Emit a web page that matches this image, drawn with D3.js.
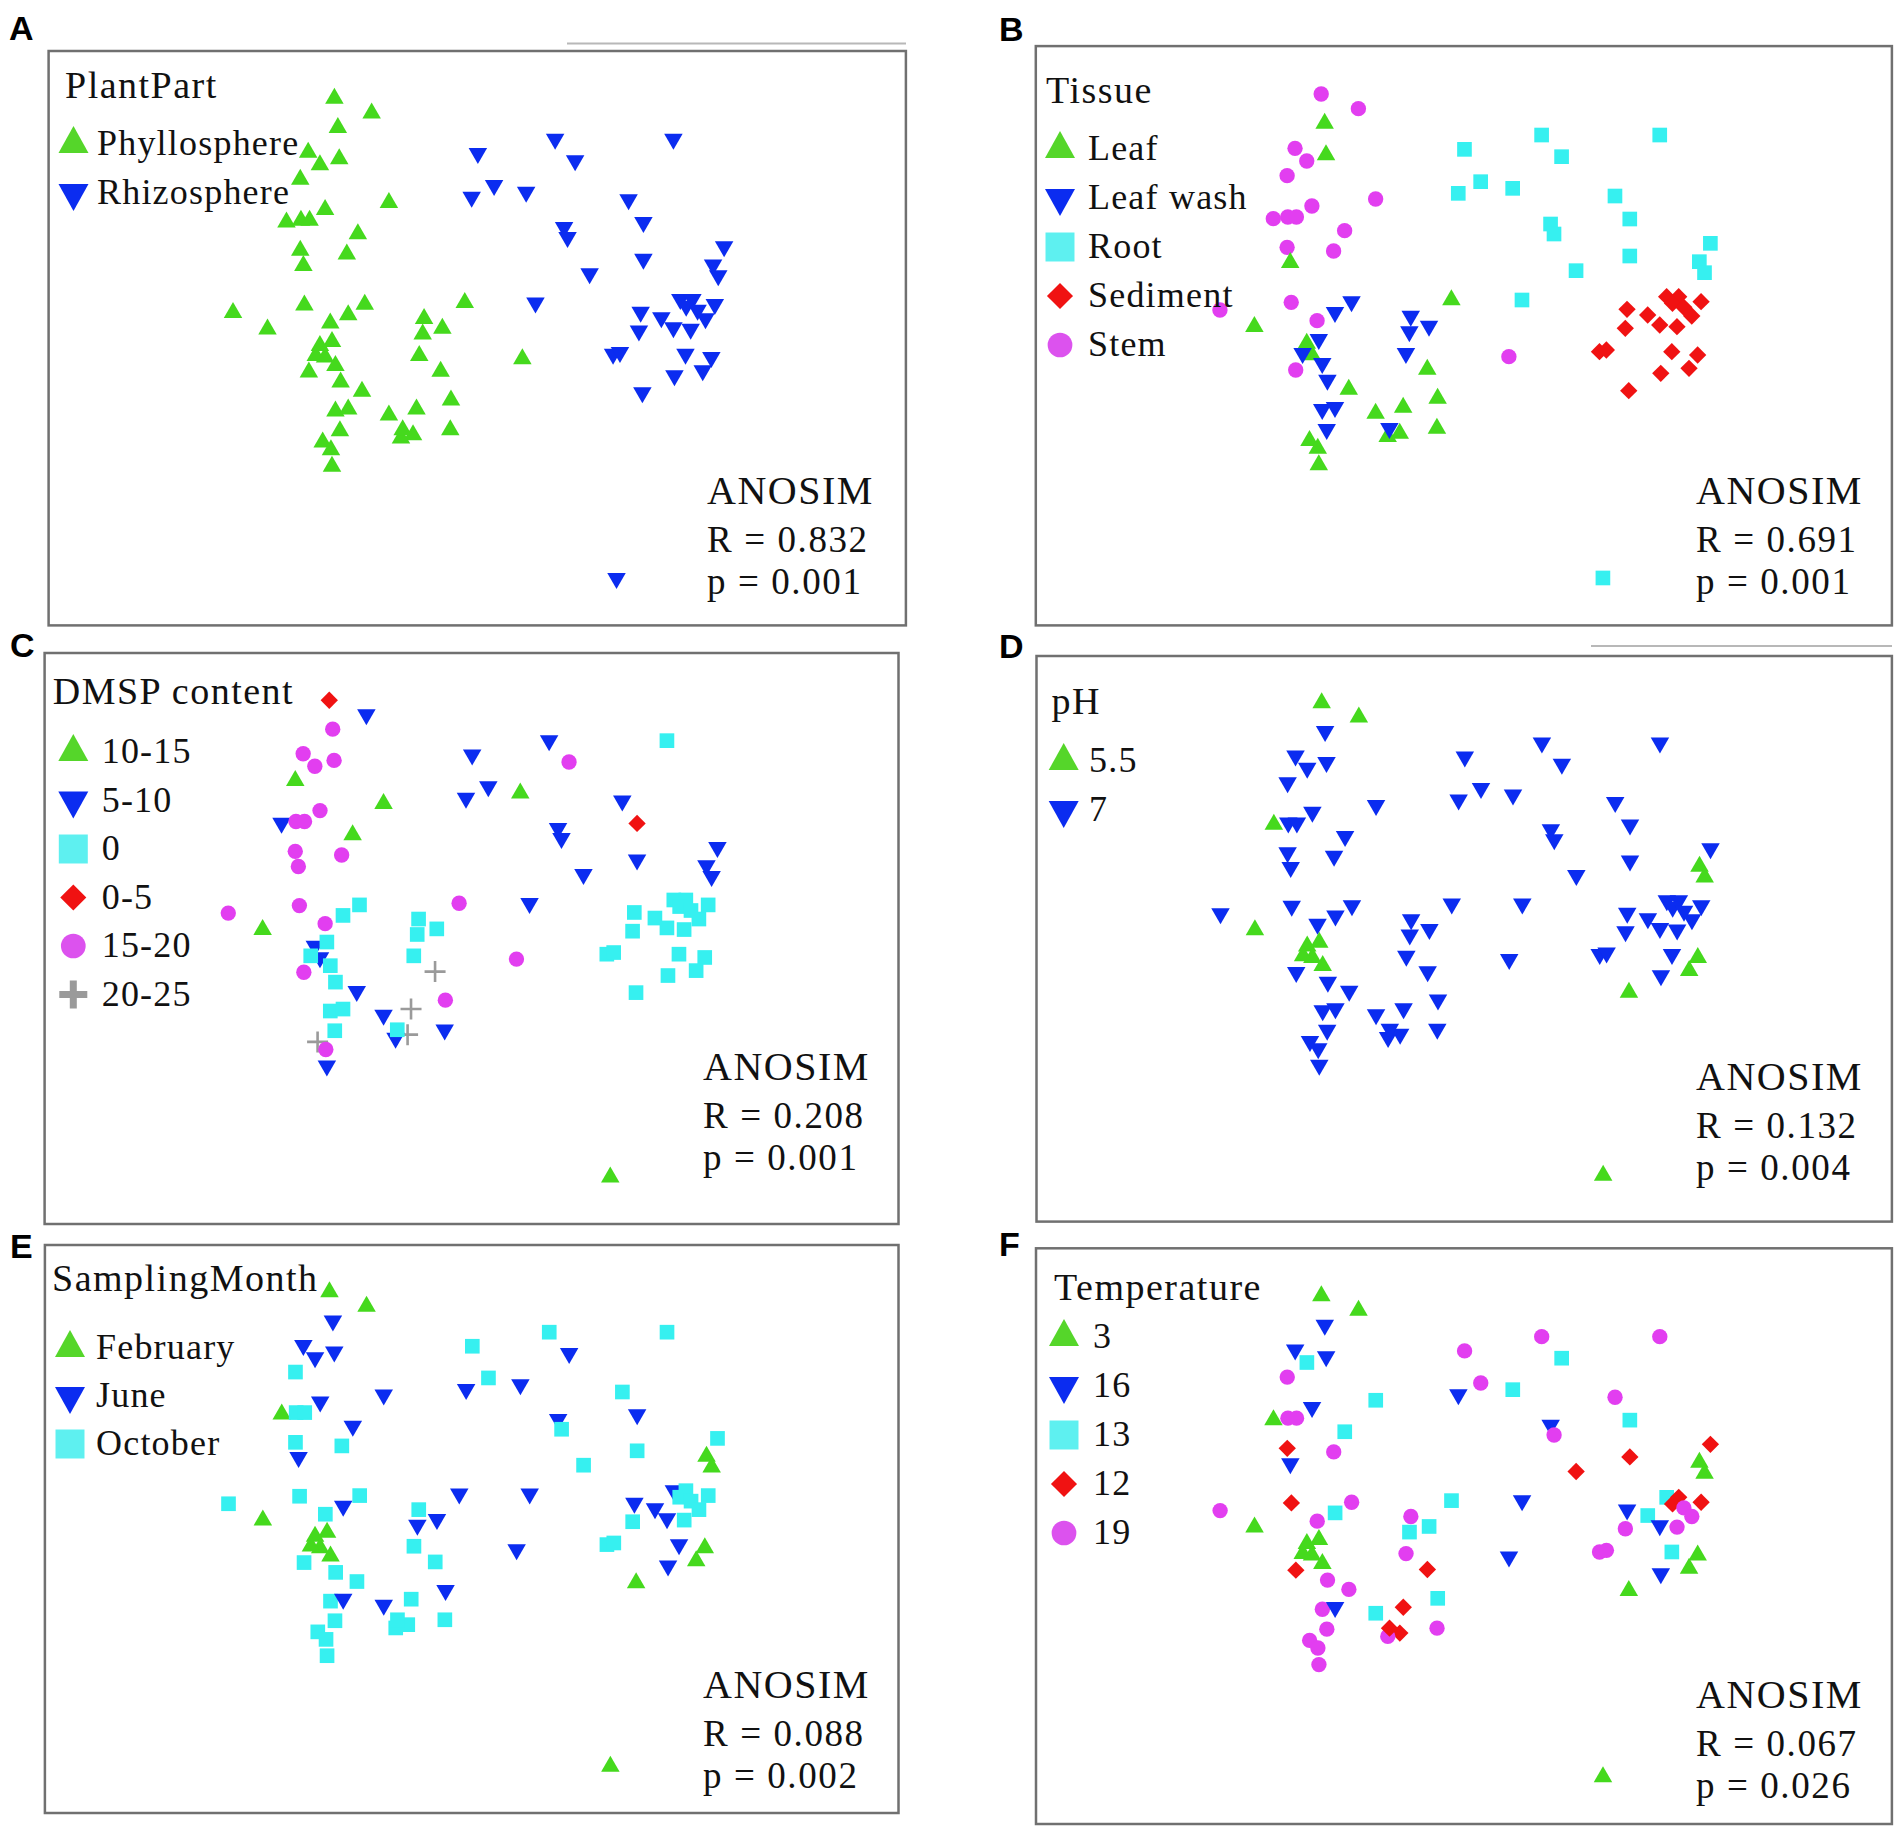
<!DOCTYPE html>
<html>
<head>
<meta charset="utf-8">
<script src="https://cdn.jsdelivr.net/npm/d3@7"></script>
<style>
body { margin: 0; background: #fff; }
svg { display: block; }
</style>
</head>
<body>
<svg id="chart" width="1904" height="1833"></svg>
<script>
// NMDS ordination of the 86 samples, shared by all six panels.
// sample order: 18 stem, 18 leaf, 14 leaf wash, 18 root, 18 sediment
var nmds1 = [
	-0.448, -0.340, -0.524, -0.490, -0.547, -0.290, -0.475, -0.587, -0.545, -0.520, -0.380, -0.547, -0.412, -0.535, -0.742, -0.460, -0.522, 0.097,
	-0.438, -0.434, -0.538, -0.642, -0.490, -0.475, -0.070, -0.140, -0.368, -0.290, -0.210, -0.110, -0.220, -0.255, -0.112, -0.482, -0.458, -0.455,
	-0.360, -0.408, -0.455, -0.502, -0.445, -0.430, -0.445, -0.408, -0.432, -0.188, -0.192, -0.135, -0.202, -0.250,
	0.192, 0.535, -0.032, 0.250, 0.015, 0.108, -0.050, 0.405, 0.448, 0.218, 0.228, 0.682, 0.448, 0.650, 0.665, 0.292, 0.135, 0.370,
	0.555, 0.590, 0.572, 0.605, 0.628, 0.655, 0.440, 0.500, 0.535, 0.585, 0.435, 0.360, 0.380, 0.570, 0.645, 0.620, 0.538, 0.445
];
var nmds2 = [
	0.528, 0.484, 0.365, 0.327, 0.283, 0.213, 0.192, 0.154, 0.159, 0.159, 0.118, 0.068, 0.057, -0.097, -0.120, -0.152, -0.300, -0.260,
	0.440, 0.345, 0.022, -0.170, -0.220, -0.255, -0.090, -0.298, -0.358, -0.430, -0.412, -0.385, -0.490, -0.500, -0.475, -0.512, -0.535, -0.585,
	-0.095, -0.127, -0.208, -0.250, -0.280, -0.330, -0.418, -0.412, -0.478, -0.138, -0.185, -0.168, -0.250, -0.475,
	0.405, 0.405, 0.362, 0.340, 0.265, 0.245, 0.230, 0.222, 0.153, 0.138, 0.108, 0.080, 0.042, 0.025, -0.008, -0.002, -0.090, -0.924,
	-0.080, -0.080, -0.100, -0.112, -0.138, -0.095, -0.118, -0.135, -0.165, -0.170, -0.175, -0.245, -0.240, -0.245, -0.255, -0.295, -0.310, -0.362
];

var tissue = [
	"Stem","Stem","Stem","Stem","Stem","Stem","Stem","Stem","Stem","Stem","Stem","Stem","Stem","Stem","Stem","Stem","Stem","Stem",
	"Leaf","Leaf","Leaf","Leaf","Leaf","Leaf","Leaf","Leaf","Leaf","Leaf","Leaf","Leaf","Leaf","Leaf","Leaf","Leaf","Leaf","Leaf",
	"Leaf wash","Leaf wash","Leaf wash","Leaf wash","Leaf wash","Leaf wash","Leaf wash","Leaf wash","Leaf wash","Leaf wash","Leaf wash","Leaf wash","Leaf wash","Leaf wash",
	"Root","Root","Root","Root","Root","Root","Root","Root","Root","Root","Root","Root","Root","Root","Root","Root","Root","Root",
	"Sediment","Sediment","Sediment","Sediment","Sediment","Sediment","Sediment","Sediment","Sediment","Sediment","Sediment","Sediment","Sediment","Sediment","Sediment","Sediment","Sediment","Sediment"
];
var dmsp = [
	"0-5","5-10","15-20","15-20","10-15","10-15","15-20","5-10","15-20","15-20","10-15","15-20","15-20","15-20","15-20","15-20","15-20","15-20",
	"15-20","15-20","15-20","10-15","5-10","5-10","15-20","20-25","5-10","5-10","20-25","15-20","20-25","5-10","5-10","20-25","15-20","5-10",
	"0","0","0","0","0","0","0","0","0","0","0","0","0","0",
	"5-10","0","5-10","15-20","5-10","10-15","5-10","5-10","0-5","5-10","5-10","5-10","5-10","5-10","5-10","5-10","5-10","10-15",
	"0","0","0","0","0","0","0","0","0","0","0","0","0","0","0","0","0","0"
];
var ph = [
	"5.5","5.5","7","7","7","7","7","5.5","7","7","7","7","7","7","7","7","7","7",
	"7","7","7","5.5","5.5","5.5","7","7","7","7","7","7","7","7","7","7","7","7",
	"7","7","5.5","5.5","5.5","7","7","7","7","7","7","7","7","7",
	"7","7","7","7","7","7","7","7","7","7","7","7","7","5.5","5.5","7","7","5.5",
	"7","7","7","7","7","7","7","7","7","7","7","7","7","7","5.5","5.5","7","5.5"
];
var month = [
	"February","February","June","June","October","June","June","February","October","October","June","October","October","October","October","October","October","June",
	"June","June","June","February","February","February","June","October","October","June","October","June","October","October","October","October","October","October",
	"October","June","February","February","February","October","October","June","October","October","June","June","October","October",
	"October","October","October","June","October","June","June","October","June","June","October","October","October","February","February","October","June","February",
	"June","October","October","October","October","October","June","June","June","October","October","October","October","June","February","February","June","February"
];
var temperature = [
	"3","3","16","13","19","13","16","3","19","19","13","12","19","12","19","19","12","16",
	"16","16","16","3","3","3","13","12","19","13","12","13","12","19","19","19","19","19",
	"19","13","3","3","3","19","19","16","19","19","13","13","19","12",
	"19","19","19","13","19","13","16","19","13","16","19","12","12","3","3","12","16","3",
	"13","12","12","19","19","12","16","13","16","19","19","19","19","13","3","3","16","3"
];

var partOfTissue = {"Leaf": "Phyllosphere", "Leaf wash": "Phyllosphere", "Stem": "Phyllosphere",
	"Root": "Rhizosphere", "Sediment": "Rhizosphere"};
var plantPart = tissue.map(function(t) {return partOfTissue[t]});

// legend order of each factor
var plantPartLevels = ["Phyllosphere", "Rhizosphere"];
var tissueLevels = ["Leaf", "Leaf wash", "Root", "Sediment", "Stem"];
var dmspLevels = ["10-15", "5-10", "0", "0-5", "15-20", "20-25"];
var phLevels = ["5.5", "7"];
var monthLevels = ["February", "June", "October"];
var temperatureLevels = ["3", "16", "13", "12", "19"];

var anosimR = ["0.832", "0.691", "0.208", "0.132", "0.088", "0.067"];
var anosimP = ["0.001", "0.001", "0.001", "0.004", "0.002", "0.026"];

// shape + colour by legend position
var shapes = ["up", "down", "square", "diamond", "circle", "plus"];
var colors = ["#45d91d", "#0b2cf0", "#36f0f0", "#f01212", "#e23ef0", "#9a9a9a"];
var legendColors = ["#55d62a", "#0b2cf0", "#5ef0f0", "#f01212", "#dc52ee", "#9a9a9a"];

var panels = [
	{letter: "A", lx: 9, ly: 40, box: [48.6, 51, 905.9, 625.4], title: "PlantPart", factor: plantPart, levels: plantPartLevels,
		leg: {tx: 65, ty: 98, sx: 73.5, x: 97, y0: 155, step: 49}, stat: {x: 707, y: 504}},
	{letter: "B", lx: 999, ly: 41, box: [1035.8, 46.1, 1891.9, 625.4], title: "Tissue", factor: tissue, levels: tissueLevels,
		leg: {tx: 1046, ty: 103, sx: 1060, x: 1088, y0: 160, step: 49}, stat: {x: 1696, y: 504}},
	{letter: "C", lx: 10, ly: 657, box: [44.6, 653, 898.5, 1224], title: "DMSP content", factor: dmsp, levels: dmspLevels,
		leg: {tx: 52.7, ty: 704, sx: 73.3, x: 101.7, y0: 763, step: 48.5}, stat: {x: 703, y: 1080}},
	{letter: "D", lx: 999, ly: 658, box: [1036.5, 656, 1891.9, 1221.6], title: "pH", factor: ph, levels: phLevels,
		leg: {tx: 1051.6, ty: 714, sx: 1063.7, x: 1089, y0: 772, step: 49}, stat: {x: 1696, y: 1090}},
	{letter: "E", lx: 10, ly: 1258, box: [44.9, 1245, 898.5, 1813], title: "SamplingMonth", factor: month, levels: monthLevels,
		leg: {tx: 52, ty: 1291, sx: 70, x: 96, y0: 1359, step: 48}, stat: {x: 703, y: 1698}},
	{letter: "F", lx: 999, ly: 1256, box: [1036, 1248.3, 1891.9, 1824], title: "Temperature", factor: temperature, levels: temperatureLevels,
		leg: {tx: 1054, ty: 1300, sx: 1064, x: 1093, y0: 1348, step: 49}, stat: {x: 1696, y: 1708}}
];

var svg = d3.select("#chart");
var serif = "'Liberation Serif', 'Times New Roman', serif";

// helper: triangle of width w and height h, centroid on 0,0, apex up
function trianglePath(w, h) {
	return "M0," + (-2 * h / 3) + "L" + (w / 2) + "," + (h / 3) + "L" + (-w / 2) + "," + (h / 3) + "Z";
}

// helper: path of a marker centred on 0,0
function markerPath(shape, big) {
	if (shape == "up" || shape == "down") return big ? trianglePath(30, 27) : trianglePath(18.5, 16);
	if (shape == "square") return d3.symbol(d3.symbolSquare, big ? 841 : 215)();
	if (shape == "diamond") return d3.symbol(d3.symbolSquare, big ? 340 : 150)();
	if (shape == "circle") return d3.symbol(d3.symbolCircle, big ? 480 : 185)();
	var h = big ? 14 : 10.5;
	return "M" + (-h) + ",0H" + h + "M0," + (-h) + "V" + h;
}

function markerRotation(shape) {
	if (shape == "down") return 180;
	if (shape == "diamond") return 45;
	return 0;
}

function drawMarker(sel, shape, color, big) {
	sel.attr("d", markerPath(shape, big));
	if (shape == "plus") {
		sel.attr("fill", "none").attr("stroke", color).attr("stroke-width", big ? 7 : 2.6);
	} else {
		sel.attr("fill", color).attr("stroke", "none");
	}
}

// decorative grey rules that sit above panels A and D
svg.append("line").attr("x1", 567).attr("x2", 906).attr("y1", 43.5).attr("y2", 43.5)
	.attr("stroke", "#b8b8b8").attr("stroke-width", 2);
svg.append("line").attr("x1", 1591).attr("x2", 1892).attr("y1", 646).attr("y2", 646)
	.attr("stroke", "#b8b8b8").attr("stroke-width", 2);

panels.forEach(function(p, k) {
	var b = p.box;
	var g = svg.append("g").attr("class", "panel-" + p.letter);

	var x = d3.scaleLinear().domain([-1.2767, 1.2091]).range([b[0], b[2]]);
	var y = d3.scaleLinear().domain([-1.0663, 0.6718]).range([b[3], b[1]]);
	var idx = d3.scaleOrdinal().domain(p.levels).range(d3.range(p.levels.length));

	g.append("rect")
		.attr("x", b[0]).attr("y", b[1])
		.attr("width", b[2] - b[0]).attr("height", b[3] - b[1])
		.attr("fill", "#fff").attr("stroke", "#707070").attr("stroke-width", 2.5);

	var samples = d3.range(nmds1.length).map(function(i) {
		return {x: nmds1[i], y: nmds2[i], group: p.factor[i]};
	});

	g.append("g").selectAll("path").data(samples).enter().append("path")
		.each(function(d) {
			var j = idx(d.group);
			drawMarker(d3.select(this), shapes[j], colors[j], false);
		})
		.attr("transform", function(d) {
			return "translate(" + x(d.x) + "," + y(d.y) + ") rotate(" + markerRotation(shapes[idx(d.group)]) + ")";
		});

	// legend
	g.append("text").attr("x", p.leg.tx).attr("y", p.leg.ty)
		.attr("font-family", serif).attr("font-size", 38).attr("letter-spacing", 1.5)
		.attr("fill", "#111").text(p.title);

	var items = g.append("g").selectAll("g").data(p.levels).enter().append("g");
	items.append("path")
		.each(function(d, j) {drawMarker(d3.select(this), shapes[j], legendColors[j], true)})
		.attr("transform", function(d, j) {
			return "translate(" + p.leg.sx + "," + (p.leg.y0 + j * p.leg.step - 11) + ") rotate(" + markerRotation(shapes[j]) + ")";
		});
	items.append("text")
		.attr("x", p.leg.x)
		.attr("y", function(d, j) {return p.leg.y0 + j * p.leg.step})
		.attr("font-family", serif).attr("font-size", 36).attr("letter-spacing", 1.2)
		.attr("fill", "#111").text(function(d) {return d});

	// ANOSIM statistics
	var st = g.append("g").attr("font-family", serif).attr("fill", "#111");
	st.append("text").attr("x", p.stat.x).attr("y", p.stat.y)
		.attr("font-size", 40).attr("letter-spacing", 1.5).text("ANOSIM");
	st.append("text").attr("x", p.stat.x).attr("y", p.stat.y + 48)
		.attr("font-size", 37).attr("letter-spacing", 1.6).text("R = " + anosimR[k]);
	st.append("text").attr("x", p.stat.x).attr("y", p.stat.y + 90)
		.attr("font-size", 37).attr("letter-spacing", 1.6).text("p = " + anosimP[k]);

	svg.append("text").attr("x", p.lx).attr("y", p.ly)
		.attr("font-family", "'Liberation Sans', Arial, sans-serif").attr("font-weight", "bold")
		.attr("font-size", 34).attr("fill", "#000").text(p.letter);
});
</script>
</body>
</html>
